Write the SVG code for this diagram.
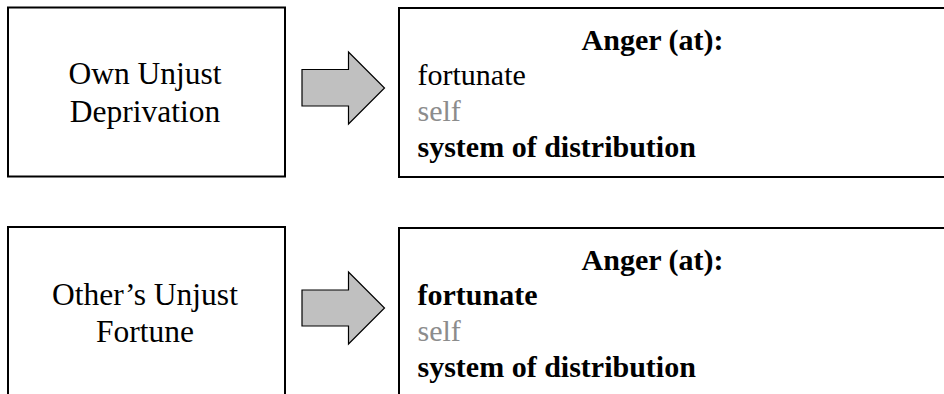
<svg xmlns="http://www.w3.org/2000/svg" width="944" height="394" viewBox="0 0 944 394">
<style>
.box{fill:#fff;stroke:#000;stroke-width:2}
.arrow{fill:#c0c0c0;stroke:#000;stroke-width:1.2;stroke-linejoin:miter}
.t{font-family:'Liberation Serif','Times New Roman',serif;fill:#000}
.lt{font-size:31.5px;text-anchor:middle}
.rt{font-size:30px}
.b{font-weight:bold}
.g{fill:#8c8c8c}
</style>
<rect width="944" height="394" fill="#fff"/>
<g id="cause1">
<rect class="box" x="8" y="7.5" width="277" height="169"/>
<text class="t lt" x="145" y="84">Own Unjust</text>
<text class="t lt" x="145" y="122">Deprivation</text>
</g>
<g id="anger1">
<rect class="box" x="399" y="8" width="560" height="169"/>
<text class="t rt b" x="652.5" y="50" text-anchor="middle">Anger (at):</text>
<text class="t rt" x="417.5" y="84.5">fortunate</text>
<text class="t rt g" x="417.5" y="120.5">self</text>
<text class="t rt b" x="417.5" y="156.5">system of distribution</text>
</g>
<g id="cause2">
<rect class="box" x="8" y="227" width="277" height="180"/>
<text class="t lt" x="145" y="305">Other’s Unjust</text>
<text class="t lt" x="145" y="342">Fortune</text>
</g>
<g id="anger2">
<rect class="box" x="399" y="228" width="560" height="180"/>
<text class="t rt b" x="652.5" y="270" text-anchor="middle">Anger (at):</text>
<text class="t rt b" x="417.5" y="304.5">fortunate</text>
<text class="t rt g" x="417.5" y="340.5">self</text>
<text class="t rt b" x="417.5" y="376.5">system of distribution</text>
</g>
<g id="connectors">
<polygon class="arrow" points="302,69.5 348.5,69.5 348.5,52 384.5,88 348.5,124 348.5,106 302,106"/>
<polygon class="arrow" points="302,290 348.5,290 348.5,272 384.5,308 348.5,344 348.5,326 302,326"/>
</g>
</svg>
